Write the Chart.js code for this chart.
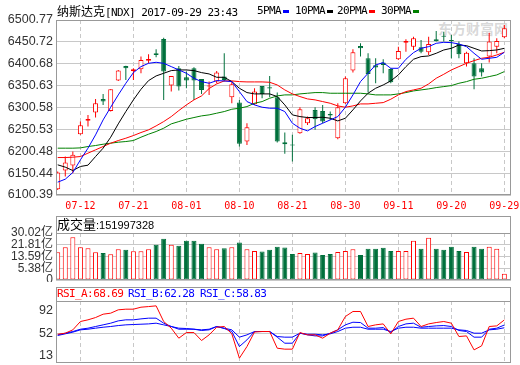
<!DOCTYPE html>
<html>
<head>
<meta charset="utf-8">
<script src="https://cdn.jsdelivr.net/npm/chart.js@4/dist/chart.umd.min.js"></script>
<style>
  body { margin: 0; background: #fff; }
  #wrap { position: relative; width: 520px; height: 365px; overflow: hidden; }
  canvas { position: absolute; left: 0; }
  .t { position: absolute; white-space: nowrap; line-height: 14px; }
  .mono { font-family: "DejaVu Sans Mono", monospace; font-size: 11px; letter-spacing: -0.6px; }
  .cjk { font-family: "Noto Sans CJK SC", sans-serif; font-size: 12px; }
  .leg b { display: inline-block; width: 6px; height: 3px; margin-left: 2px; vertical-align: middle; }
  .wm { font-family: "Noto Sans CJK SC", sans-serif; font-weight: bold; font-size: 14px; color: rgba(170,170,170,0.45); }
</style>
</head>
<body>
<div id="wrap">
  <div class="t wm" style="left:438px;top:21px">东方财富网</div>
  <canvas id="main" width="520" height="215" style="top:0"></canvas>
  <canvas id="vol" width="520" height="67" style="top:215px"></canvas>
  <canvas id="rsi" width="520" height="79" style="top:286px"></canvas>

  <div class="t" style="left:57px;top:4px"><span class="cjk">纳斯达克</span><span class="mono">[NDX] 2017-09-29 23:43</span></div>
  <div class="t mono leg" style="left:257px;top:4px">5PMA<b style="background:#0000ff"></b></div>
  <div class="t mono leg" style="left:295px;top:4px">10PMA<b style="background:#000000"></b></div>
  <div class="t mono leg" style="left:337px;top:4px">20PMA<b style="background:#ff0000"></b></div>
  <div class="t mono leg" style="left:381px;top:4px">30PMA<b style="background:#008000"></b></div>

  <div class="t" style="left:57px;top:217px"><span class="cjk" style="font-size:13px">成交量</span><span style="font:11px 'Liberation Sans',Arial">:151997328</span></div>

  <div class="t mono" style="left:57px;top:287px;color:#ff0000">RSI_A:68.69</div>
  <div class="t mono" style="left:128px;top:287px;color:#0000ff">RSI_B:62.28</div>
  <div class="t mono" style="left:200px;top:287px;color:#0000ff">RSI_C:58.83</div>
</div>
<script>
// daily bars, NDX 2017-07-07 .. 2017-09-29
var dates = ['07-07','07-10','07-11','07-12','07-13','07-14','07-17','07-18','07-19','07-20',
  '07-21','07-24','07-25','07-26','07-27','07-28','07-31','08-01','08-02','08-03',
  '08-04','08-07','08-08','08-09','08-10','08-11','08-14','08-15','08-16','08-17',
  '08-18','08-21','08-22','08-23','08-24','08-25','08-28','08-29','08-30','08-31',
  '09-01','09-05','09-06','09-07','09-08','09-11','09-12','09-13','09-14','09-15',
  '09-18','09-19','09-20','09-21','09-22','09-25','09-26','09-27','09-28','09-29'];

var opens = [6113.8, 6156.4, 6167.9, 6239.5, 6270.0, 6289.0, 6320.2, 6292.8, 6362.1, 6395.6,
  6384.0, 6388.0, 6407.8, 6424.6, 6457.3, 6350.7, 6390.3, 6369.7, 6390.3, 6366.0,
  6348.4, 6359.8, 6371.3, 6324.0, 6311.8, 6222.7, 6308.0, 6350.0, 6346.9, 6324.0,
  6221.2, 6215.9, 6241.8, 6264.6, 6295.1, 6292.8, 6285.9, 6230.3, 6310.3, 6385.0,
  6441.4, 6413.2, 6397.0, 6403.3, 6388.8, 6410.9, 6449.0, 6439.8, 6438.3, 6426.9,
  6456.6, 6465.0, 6455.0, 6446.0, 6401.7, 6401.7, 6390.3, 6417.0, 6439.8, 6461.2];
var highs = [6154.0, 6188.4, 6199.9, 6268.4, 6283.7, 6320.2, 6331.7, 6342.3, 6386.5, 6396.0,
  6390.3, 6417.0, 6422.3, 6433.7, 6460.4, 6372.8, 6395.6, 6382.7, 6392.6, 6366.0,
  6359.8, 6384.2, 6424.6, 6359.8, 6318.0, 6264.6, 6344.6, 6350.0, 6372.8, 6334.7,
  6243.3, 6238.0, 6301.2, 6279.8, 6301.2, 6306.5, 6291.3, 6310.3, 6371.3, 6433.7,
  6447.4, 6424.6, 6413.0, 6410.9, 6390.3, 6439.8, 6456.6, 6462.7, 6455.0, 6462.7,
  6475.6, 6474.1, 6466.5, 6451.3, 6428.4, 6413.2, 6401.7, 6471.8, 6458.9, 6489.3];
var lows = [6112.0, 6142.7, 6150.3, 6238.0, 6257.0, 6277.6, 6306.5, 6291.3, 6361.0, 6363.6,
  6363.6, 6378.9, 6401.7, 6415.5, 6317.9, 6337.0, 6339.3, 6344.6, 6317.9, 6331.7,
  6329.4, 6356.0, 6359.8, 6310.3, 6211.3, 6215.0, 6306.5, 6321.8, 6324.0, 6220.4,
  6194.5, 6177.0, 6240.3, 6260.8, 6249.4, 6264.6, 6272.2, 6228.0, 6308.8, 6380.4,
  6417.0, 6334.7, 6356.0, 6378.9, 6356.0, 6409.4, 6428.4, 6432.2, 6424.6, 6420.8,
  6451.3, 6451.3, 6413.2, 6413.2, 6394.1, 6342.3, 6371.3, 6403.3, 6424.6, 6458.9];
var closes = [6151.9, 6174.7, 6192.2, 6260.0, 6274.5, 6310.3, 6314.1, 6342.3, 6385.0, 6390.3,
  6388.0, 6409.4, 6411.6, 6420.8, 6382.7, 6372.8, 6348.4, 6362.1, 6362.1, 6340.8,
  6350.7, 6380.4, 6363.6, 6354.0, 6217.4, 6255.5, 6337.0, 6331.7, 6343.9, 6222.7,
  6216.6, 6213.6, 6296.6, 6276.0, 6273.7, 6268.4, 6282.1, 6301.2, 6367.5, 6426.9,
  6436.0, 6377.4, 6392.0, 6397.9, 6358.3, 6429.9, 6452.8, 6458.9, 6428.4, 6445.9,
  6452.8, 6462.7, 6452.8, 6422.3, 6426.1, 6371.3, 6380.4, 6451.3, 6452.8, 6481.7];

var ma5 = [6129.8, 6136.6, 6151.9, 6180.8, 6207.5, 6237.9, 6272.2, 6301.2, 6329.4, 6356.0,
  6380.4, 6394.1, 6401.7, 6404.0, 6401.7, 6394.1, 6386.5, 6378.9, 6367.5, 6359.8,
  6356.0, 6362.1, 6361.4, 6359.8, 6337.0, 6314.1, 6306.5, 6301.2, 6298.9, 6298.9,
  6291.3, 6264.6, 6253.2, 6247.1, 6257.0, 6264.6, 6272.2, 6279.8, 6301.2, 6329.4,
  6359.8, 6378.9, 6397.9, 6403.3, 6390.3, 6390.3, 6410.9, 6426.1, 6436.0, 6439.8,
  6447.4, 6449.7, 6449.0, 6445.9, 6439.8, 6424.6, 6410.9, 6413.2, 6415.4, 6426.9];
var ma10 = [6169.4, 6164.1, 6156.4, 6165.6, 6168.6, 6188.4, 6207.5, 6232.6, 6263.1, 6291.3,
  6318.0, 6342.3, 6362.1, 6372.8, 6378.9, 6385.0, 6386.5, 6386.5, 6385.0, 6380.4,
  6377.4, 6369.7, 6369.7, 6359.8, 6344.6, 6334.7, 6331.7, 6331.7, 6331.7, 6325.6,
  6306.5, 6283.7, 6279.8, 6277.6, 6277.6, 6278.3, 6276.0, 6269.9, 6276.0, 6295.1,
  6315.7, 6333.2, 6344.6, 6352.2, 6361.4, 6375.1, 6394.1, 6410.9, 6417.0, 6418.5,
  6424.6, 6432.2, 6436.0, 6443.6, 6442.1, 6436.0, 6429.9, 6430.7, 6432.2, 6436.0];
var ma20 = [6186.1, 6186.1, 6186.9, 6188.4, 6196.1, 6203.7, 6211.3, 6218.9, 6225.0, 6230.3,
  6236.4, 6243.3, 6249.4, 6258.5, 6268.4, 6279.8, 6293.6, 6306.5, 6318.0, 6327.1,
  6344.0, 6354.5, 6361.4, 6361.4, 6359.8, 6359.1, 6359.1, 6359.1, 6358.3, 6352.2,
  6340.8, 6331.7, 6325.6, 6320.2, 6318.0, 6314.1, 6310.3, 6304.2, 6301.2, 6304.2,
  6308.8, 6308.8, 6310.3, 6311.8, 6319.5, 6329.4, 6337.0, 6340.8, 6344.6, 6354.5,
  6367.5, 6376.6, 6386.5, 6394.1, 6401.7, 6407.8, 6413.2, 6415.5, 6420.8, 6426.9];
var ma30 = [6207.5, 6207.5, 6207.5, 6208.2, 6211.3, 6213.6, 6216.6, 6218.9, 6221.2, 6222.7,
  6225.0, 6232.6, 6239.5, 6245.6, 6253.2, 6263.1, 6268.4, 6273.7, 6277.6, 6281.4,
  6283.7, 6287.5, 6291.3, 6296.6, 6298.9, 6302.7, 6310.3, 6314.1, 6321.7, 6327.1,
  6329.4, 6329.4, 6331.7, 6333.2, 6334.7, 6334.7, 6333.2, 6333.2, 6333.2, 6333.2,
  6333.2, 6331.7, 6329.4, 6329.4, 6329.4, 6331.7, 6334.7, 6338.5, 6340.8, 6343.1,
  6346.1, 6348.4, 6350.7, 6356.0, 6359.8, 6365.2, 6367.5, 6371.3, 6375.1, 6382.7];

// volume, 亿
var volumes = [16.6, 20.1, 27.1, 20.1, 19.4, 16.6, 16.1, 15.2, 18.7, 18.3,
  17.3, 17.3, 18.7, 21.8, 26.0, 21.8, 21.1, 24.6, 24.6, 22.5,
  20.1, 18.7, 19.4, 20.1, 23.4, 18.7, 17.4, 17.1, 18.3, 20.4,
  19.9, 15.4, 16.1, 15.4, 16.4, 14.7, 15.4, 16.8, 17.5, 18.7,
  14.7, 19.0, 19.0, 19.7, 17.5, 17.5, 17.5, 24.6, 19.0, 26.7,
  19.0, 18.3, 20.4, 17.5, 16.8, 20.4, 19.0, 20.4, 19.0, 1.52];

var rsiA = [50.7, 52.0, 56.2, 66.7, 68.8, 71.7, 75.9, 77.2, 81.4, 82.2,
  82.2, 84.7, 85.5, 86.4, 66.7, 58.3, 45.7, 52.8, 52.8, 42.8,
  49.9, 59.5, 60.4, 51.2, 20.6, 35.2, 53.5, 54.1, 54.1, 33.1,
  31.9, 31.9, 52.8, 49.9, 49.9, 45.7, 52.0, 56.2, 73.0, 79.3,
  79.3, 60.4, 62.5, 63.7, 51.2, 66.7, 69.6, 70.9, 60.4, 63.7,
  65.4, 66.7, 64.6, 47.8, 48.6, 31.0, 36.1, 60.4, 61.2, 68.69];
var rsiB = [49.9, 52.0, 54.1, 57.0, 58.3, 60.4, 62.5, 64.6, 67.5, 68.8,
  68.8, 70.0, 70.9, 70.9, 64.6, 60.4, 57.0, 57.0, 57.0, 55.4,
  56.2, 60.4, 57.9, 54.1, 35.2, 43.6, 54.1, 54.1, 54.1, 47.0,
  39.4, 39.4, 52.0, 49.9, 48.6, 48.6, 52.0, 56.2, 62.5, 65.8,
  65.4, 58.3, 58.3, 59.1, 52.8, 60.4, 63.7, 64.6, 59.5, 60.4,
  61.2, 61.6, 60.4, 55.4, 54.1, 47.0, 47.0, 57.0, 58.3, 62.28];
var rsiC = [49.1, 51.2, 53.3, 56.2, 57.0, 58.3, 59.5, 60.4, 61.6, 62.5,
  62.9, 63.3, 63.7, 64.6, 62.5, 60.4, 58.3, 57.9, 57.0, 56.2,
  57.0, 60.4, 58.3, 56.2, 47.0, 49.9, 54.1, 54.1, 54.1, 47.8,
  47.0, 47.0, 52.0, 50.7, 50.7, 49.9, 51.2, 54.1, 58.3, 59.5,
  59.5, 57.0, 57.0, 57.0, 54.1, 58.3, 59.5, 59.5, 58.3, 58.3,
  58.3, 58.3, 58.3, 56.2, 55.4, 52.0, 52.0, 56.2, 57.0, 58.83];

var priceTicks = [6100.39, 6150.44, 6200.48, 6250.53, 6300.58, 6350.63, 6400.68, 6450.72, 6500.77];
var volTicks = [-2.82, 5.38, 13.59, 21.81, 30.02];
var rsiTicks = [92, 52, 13];
var dateTicks = [3, 10, 17, 24, 31, 38, 45, 52, 59];

var RED = '#ff0000', GREEN = '#00703c', GRID = '#c8c8c8', FRAME = '#999999';
var labelFont = { family: '"Liberation Sans", Arial, "Noto Sans CJK SC"', size: 12.5 };

function up(i) { return closes[i] >= opens[i]; }
function pts(arr) { return arr.map(function (v, i) { return { x: i, y: v }; }); }

function xAxis(showLabels) {
  return {
    type: 'linear', min: -0.225, max: 59.88, offset: false,
    afterBuildTicks: function (s) { s.ticks = dateTicks.map(function (v) { return { value: v }; }); },
    afterFit: function (s) { s.height = showLabels ? 20 : 0; s.paddingLeft = 0; s.paddingRight = 0; },
    grid: { color: GRID, drawTicks: false, offset: false },
    border: { display: false, dash: [4, 3] },
    ticks: {
      display: showLabels, autoSkip: false, maxRotation: 0, padding: 5, color: RED,
      font: { family: '"DejaVu Sans Mono", monospace', size: 10 },
      callback: function (v) { return dates[v]; }
    }
  };
}

function yAxis(min, max, ticks, fmt, showLabels, fontSize) {
  return {
    min: min, max: max,
    afterBuildTicks: function (s) { s.ticks = ticks.map(function (v) { return { value: v }; }); },
    afterFit: function (s) { s.width = 56; s.paddingTop = 0; s.paddingBottom = 0; },
    grid: { color: GRID, drawTicks: false },
    border: { display: false },
    ticks: {
      display: showLabels, autoSkip: false, padding: 3, color: '#333',
      font: { family: labelFont.family, size: fontSize || labelFont.size }, callback: fmt
    }
  };
}

// plot border, plus a header strip above it when headerTop is given
function frame(headerTop) {
  return {
    id: 'frame',
    afterDraw: function (chart) {
      var a = chart.chartArea, ctx = chart.ctx;
      var l = Math.round(a.left) + 0.5, r = Math.round(a.right) - 0.5;
      var t = Math.round(headerTop != null ? headerTop : a.top) + 0.5, b = Math.round(a.bottom) - 0.5;
      ctx.save();
      ctx.strokeStyle = FRAME;
      ctx.lineWidth = 1;
      ctx.strokeRect(l, t, r - l, b - t);
      if (headerTop != null) {
        var y = Math.round(a.top) + 0.5;
        ctx.beginPath(); ctx.moveTo(l, y); ctx.lineTo(r, y); ctx.stroke();
      }
      ctx.restore();
    }
  };
}

var base = {
  responsive: false, animation: false, events: [],
  plugins: { legend: { display: false }, tooltip: { enabled: false } }
};

function lineSet(arr, color) {
  return { type: 'line', data: pts(arr), borderColor: color, borderWidth: 1, pointRadius: 0, tension: 0 };
}

// price panel
new Chart(document.getElementById('main'), {
  type: 'bar',
  data: {
    datasets: [
      lineSet(ma5, '#0000ff'),
      lineSet(ma10, '#000000'),
      lineSet(ma20, RED),
      lineSet(ma30, '#008000'),
      {
        data: opens.map(function (o, i) { return { x: i, y: [o, closes[i]] }; }),
        barThickness: 5, borderWidth: 1, borderSkipped: false, minBarLength: 1, inflateAmount: 0, grouped: false,
        backgroundColor: function (c) { return up(c.dataIndex) ? '#ffffff' : GREEN; },
        borderColor: function (c) { return up(c.dataIndex) ? RED : GREEN; }
      },
      {
        data: lows.map(function (l, i) { return { x: i, y: [l, highs[i]] }; }),
        barThickness: 1, borderWidth: 0, inflateAmount: 0, grouped: false,
        backgroundColor: function (c) { return up(c.dataIndex) ? RED : GREEN; }
      }
    ]
  },
  options: Object.assign({}, base, {
    layout: { padding: { top: 20, right: 9, left: 0, bottom: 0 } },
    scales: {
      x: xAxis(true),
      y: yAxis(6100.39, 6500.77, priceTicks, function (v) { return v.toFixed(2); }, true)
    }
  }),
  plugins: [frame(null)]
});

// volume panel
new Chart(document.getElementById('vol'), {
  type: 'bar',
  data: {
    datasets: [{
      data: pts(volumes), base: volTicks[0],
      barThickness: 5, borderWidth: 1, borderSkipped: false, inflateAmount: 0,
      backgroundColor: function (c) { return up(c.dataIndex) ? '#ffffff' : GREEN; },
      borderColor: function (c) { return up(c.dataIndex) ? RED : GREEN; }
    }]
  },
  options: Object.assign({}, base, {
    layout: { padding: { top: 18, right: 9, left: 0, bottom: 2 } },
    scales: {
      x: xAxis(false),
      y: yAxis(volTicks[0], volTicks[volTicks.length - 1], volTicks,
        function (v) { return v === volTicks[0] ? '0' : v.toFixed(2) + '亿'; }, true, 12)
    }
  }),
  plugins: [frame(1)]
});

// RSI panel
var rsiLabels = {
  id: 'rsiLabels',
  afterDraw: function (chart) {
    var a = chart.chartArea, ctx = chart.ctx, ys = chart.scales.y;
    ctx.save();
    ctx.font = labelFont.size + 'px ' + labelFont.family;
    ctx.fillStyle = '#333';
    ctx.textAlign = 'right';
    ctx.textBaseline = 'top';
    ctx.fillText(String(rsiTicks[0]), a.left - 3, a.top + 3);
    ctx.textBaseline = 'middle';
    ctx.fillText(String(rsiTicks[1]), a.left - 3, ys.getPixelForValue(rsiTicks[1]));
    ctx.textBaseline = 'bottom';
    ctx.fillText(String(rsiTicks[2]), a.left - 3, a.bottom - 1);
    ctx.restore();
  }
};

new Chart(document.getElementById('rsi'), {
  type: 'line',
  data: {
    datasets: [
      lineSet(rsiA, RED),
      lineSet(rsiB, '#0000ff'),
      lineSet(rsiC, '#0000ff')
    ]
  },
  options: Object.assign({}, base, {
    layout: { padding: { top: 15, right: 9, left: 0, bottom: 2 } },
    scales: {
      x: xAxis(false),
      y: yAxis(14.5, 92.5, [rsiTicks[1]], function (v) { return ''; }, false)
    }
  }),
  plugins: [frame(1), rsiLabels]
});
</script>
</body>
</html>
